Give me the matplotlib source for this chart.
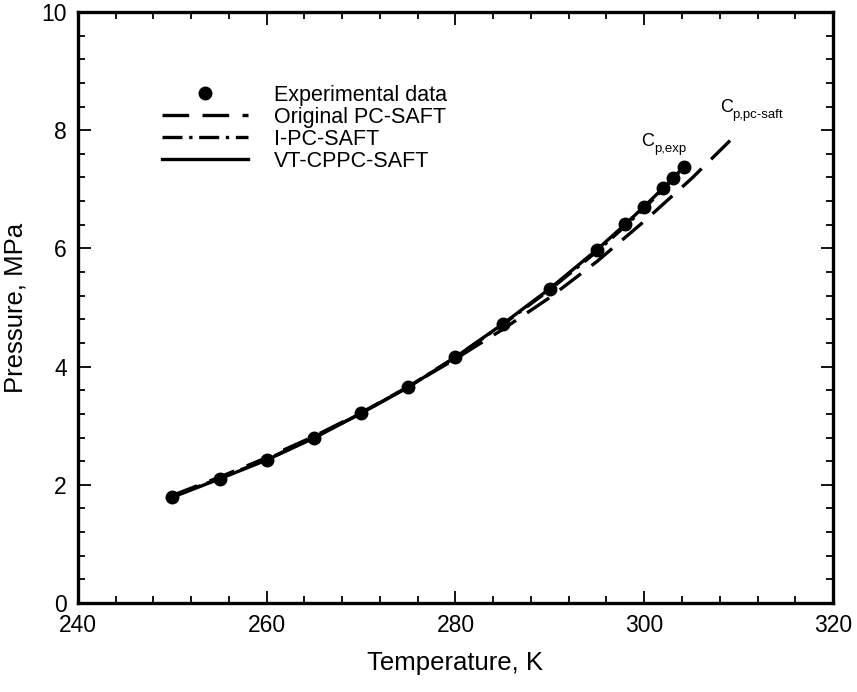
import matplotlib.pyplot as plt
import numpy as np

plt.rcParams["font.family"] = ["Liberation Sans", "DejaVu Sans"]

# experimental vapour pressure
T_exp = [250, 255, 260, 265, 270, 275, 280, 285, 290, 295, 298, 300, 302, 303, 304.2]
P_exp = [1.79, 2.10, 2.42, 2.79, 3.21, 3.65, 4.16, 4.72, 5.31, 5.97, 6.41, 6.70, 7.02, 7.19, 7.38]

# original PC-SAFT (overshoots the critical point)
T_pc = [250, 255, 260, 265, 270, 275, 280, 285, 290, 295, 300, 305, 309.7]
P_pc = [1.82, 2.13, 2.46, 2.82, 3.22, 3.66, 4.13, 4.63, 5.17, 5.78, 6.46, 7.18, 7.92]

# I-PC-SAFT
T_ipc = [250, 255, 260, 265, 270, 275, 280, 285, 290, 295, 298, 300, 302, 304.2]
P_ipc = [1.80, 2.11, 2.43, 2.80, 3.21, 3.66, 4.16, 4.71, 5.30, 5.95, 6.38, 6.68, 7.00, 7.37]

# VT-CPPC-SAFT
T_vt = [250, 255, 260, 265, 270, 275, 280, 285, 290, 295, 298, 300, 302, 304.2]
P_vt = [1.79, 2.10, 2.42, 2.79, 3.21, 3.65, 4.16, 4.72, 5.32, 5.98, 6.41, 6.71, 7.02, 7.38]

fig = plt.figure(figsize=(8.57, 6.92), dpi=100)
ax = fig.add_axes([0.091, 0.1286, 0.881, 0.8541])

lw = 2.4
ax.plot(T_exp, P_exp, "o", color="k", ms=9, label="Experimental data", zorder=5)
ax.plot(T_pc, P_pc, color="k", lw=lw, dashes=(8, 4), label="Original PC-SAFT")
ax.plot(T_ipc, P_ipc, color="k", lw=lw, dashes=(6, 2, 1, 2), label="I-PC-SAFT")
ax.plot(T_vt, P_vt, color="k", lw=lw, label="VT-CPPC-SAFT")


def crit_label(x, y, sub):
    # "C" with a small plain-text subscript
    ax.text(x, y, "C", fontsize=13, ha="left", va="baseline")
    ax.annotate(sub, (x, y), xytext=(9, -4), textcoords="offset points",
                fontsize=9.5, ha="left", va="baseline")


crit_label(299.7, 7.73, "p,exp")
crit_label(308.0, 8.30, "p,pc-saft")

ax.set_xlim(240, 320)
ax.set_ylim(0, 10)
ax.set_xticks(np.arange(240, 321, 20))
ax.set_yticks(np.arange(0, 11, 2))
ax.set_xticks(np.arange(240, 321, 4), minor=True)
ax.set_yticks(np.arange(0, 10.01, 0.4), minor=True)
ax.tick_params(which="both", direction="in", top=True, right=True, width=1.3,
               labelsize=16.5, pad=8)
ax.tick_params(which="major", length=9)
ax.tick_params(which="minor", length=5)
for s in ax.spines.values():
    s.set_linewidth(2.4)

ax.set_xlabel("Temperature, K", fontsize=18.5, labelpad=10)
ax.set_ylabel("Pressure, MPa", fontsize=18.5, labelpad=10)

ax.legend(loc="upper left", bbox_to_anchor=(0.097, 0.895), frameon=False,
          fontsize=15.5, handlelength=4.0, handletextpad=1.2, labelspacing=0.05,
          borderpad=0)

fig.savefig("out.png", dpi=100)
